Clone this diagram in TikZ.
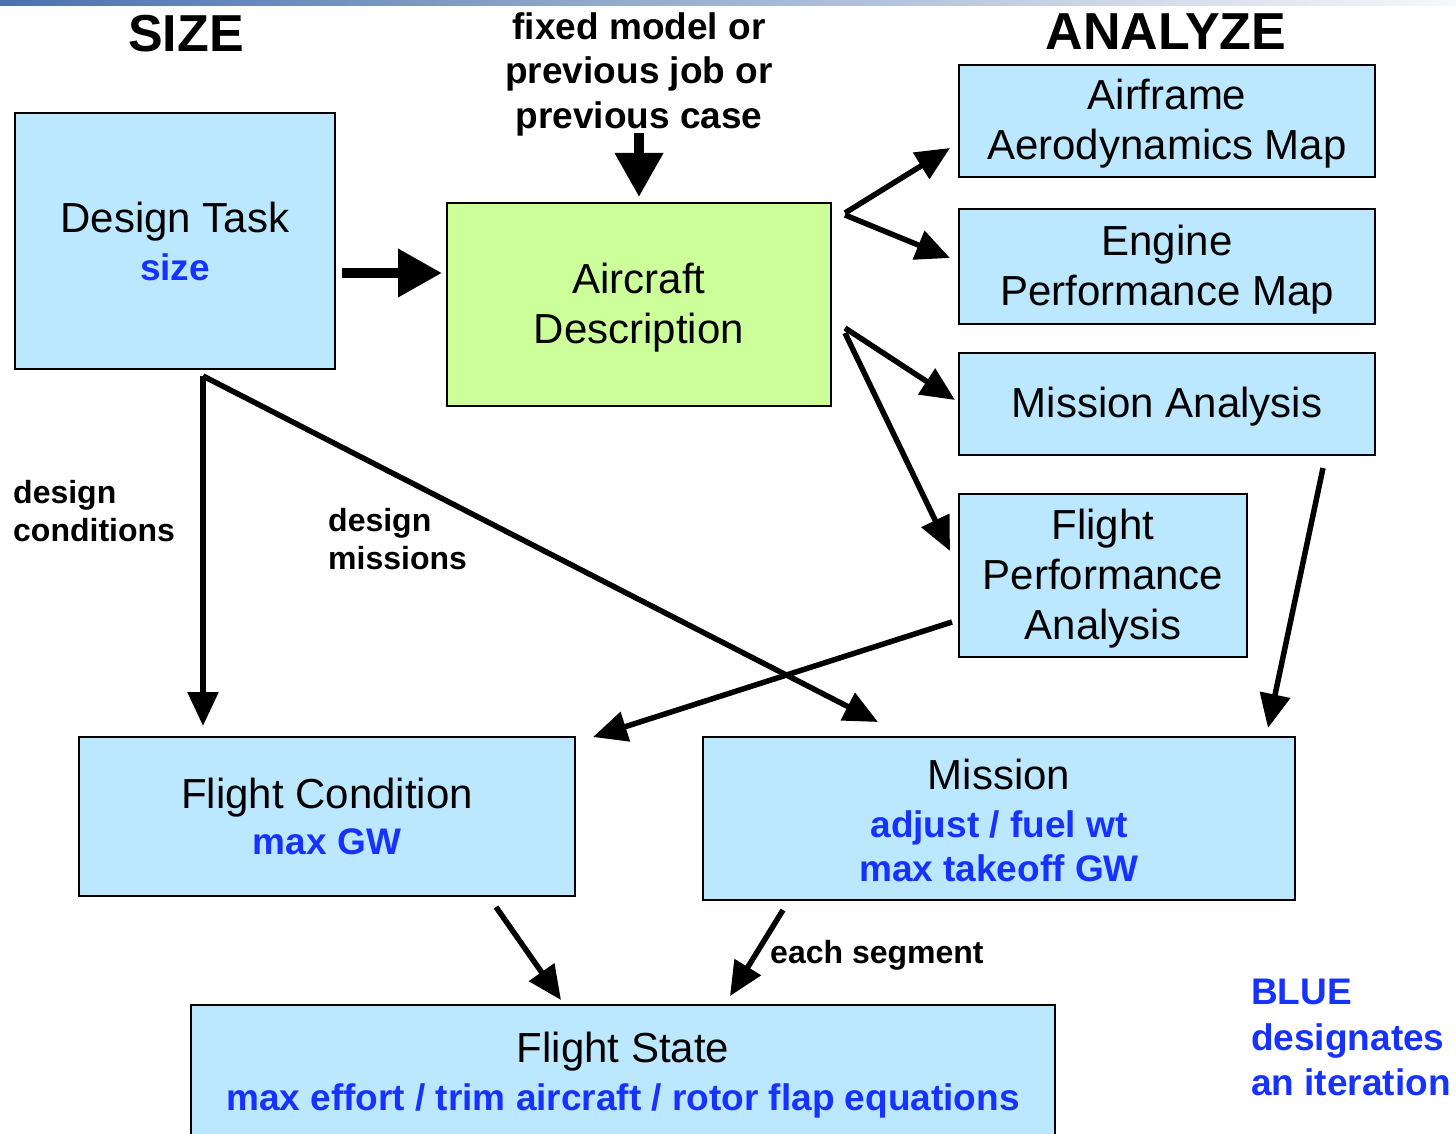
\documentclass[tikz,border=0pt]{standalone}
\usepackage{fontspec}
\setmainfont{Liberation Sans}
\usetikzlibrary{arrows.meta}
\definecolor{boxblue}{RGB}{187,231,255}
\definecolor{boxgreen}{RGB}{204,255,153}
\definecolor{iter}{RGB}{22,50,255}
\definecolor{barblue}{RGB}{75,115,170}
\definecolor{barend}{RGB}{246,247,251}
\newcommand{\itr}[1]{{\bfseries\color{iter}\fontsize{37}{44}\selectfont #1}}
\tikzset{
  box/.style={draw=black, line width=2.2pt, fill=boxblue, inner sep=0pt,
    font=\fontsize{42}{50}\selectfont, align=center},
  lbl/.style={font=\bfseries\fontsize{32}{38}\selectfont, align=left, inner sep=0pt},
  arr/.style={line width=5.5pt, -{Triangle[length=34pt,width=30pt]}},
  bigarr/.style={line width=10pt, -{Triangle[length=44pt,width=46pt]}},
  head/.style={font=\bfseries\fontsize{52}{60}\selectfont, inner sep=0pt},
}
\begin{document}
\begin{tikzpicture}[x=1pt, y=-1pt]
\useasboundingbox (0,0) rectangle (1456,1134);
\clip (0,0) rectangle (1456,1134);
\fill[white] (0,0) rectangle (1456,1134);
% title bar
\shade[left color=barblue, right color=barend] (0,0) rectangle (1456,6);

% headings and free labels
\node[head] (size) at (186,34) {SIZE};
\node[head] (analyze) at (1166,32) {ANALYZE};
\node[font=\bfseries\fontsize{37}{44.5}\selectfont, align=center, inner sep=0pt]
  (fixed) at (639,74) {fixed model or\\previous job or\\previous case};

% boxes
\node[box, minimum width=320pt, minimum height=256pt] (dt) at (175,241)
  {Design Task\\[-2pt]\itr{size}};
\node[box, fill=boxgreen, minimum width=384pt, minimum height=203pt] (ad) at (639,304.5)
  {\rule{0pt}{36pt}Aircraft\\Description};
\node[box, minimum width=416pt, minimum height=112pt] (aam) at (1167,121)
  {\rule{0pt}{36pt}Airframe\\Aerodynamics Map};
\node[box, minimum width=416pt, minimum height=115pt] (epm) at (1167,266.5)
  {\rule{0pt}{36pt}Engine\\Performance Map};
\node[box, minimum width=416pt, minimum height=102pt] (ma) at (1167,404)
  {\rule{0pt}{36pt}Mission Analysis};
\node[box, minimum width=288pt, minimum height=163pt] (fpa) at (1103,575.5)
  {\rule{0pt}{36pt}Flight\\Performance\\Analysis};
\node[box, minimum width=496pt, minimum height=159pt] (fc) at (327,816.5)
  {Flight Condition\\[-4pt]\itr{max GW}};
\node[box, minimum width=592pt, minimum height=163pt] (mis) at (999,818.5)
  {\rule{0pt}{34pt}Mission\\[-2pt]\itr{adjust / fuel wt}\\[-6pt]\itr{max takeoff GW}};
\node[box, minimum width=864pt, minimum height=140pt] (fs) at (623,1075)
  {Flight State\\[-2pt]\itr{max effort / trim aircraft / rotor flap equations}};

\node[lbl, anchor=north west] (dcond) at (13,480) {design\\conditions};
\node[lbl, anchor=north west] (dmis) at (328,508) {design\\missions};
\node[lbl, anchor=north west] (seg) at (770,940) {each segment};
\node[font=\bfseries\fontsize{37}{45.5}\selectfont, text=iter, align=left,
  inner sep=0pt, anchor=north west] (blue) at (1251,979) {BLUE\\designates\\an iteration};

% connector end points
\coordinate (dtR) at (342,273);
\coordinate (adL) at (442,273);
\coordinate (fixT) at (639,133);
\coordinate (adT) at (639,197);
\coordinate (adR1) at (845,213);
\coordinate (adR2) at (845,215);
\coordinate (adR3) at (845,328);
\coordinate (adR4) at (845,333);
\coordinate (aamL) at (950,148);
\coordinate (epmL) at (950,258);
\coordinate (maL) at (955,400);
\coordinate (fpaL) at (950,551);
\coordinate (dtB) at (203,376);
\coordinate (fcT1) at (203,726);
\coordinate (misT1) at (878,722);
\coordinate (fpaW) at (952,622);
\coordinate (fcT2) at (593,737);
\coordinate (maB) at (1323,468);
\coordinate (misT2) at (1268,728);
\coordinate (fcB) at (496,907);
\coordinate (fsT1) at (561,1000);
\coordinate (misB) at (783,910);
\coordinate (fsT2) at (730,996);

% connectors
\draw[bigarr] (dtR) -- (adL);
\draw[bigarr] (fixT) -- (adT);
\draw[arr] (adR1) -- (aamL);
\draw[arr] (adR2) -- (epmL);
\draw[arr] (adR3) -- (maL);
\draw[arr] (adR4) -- (fpaL);
\draw[arr] (dtB) -- (fcT1);
\draw[arr] (dtB) -- (misT1);
\draw[arr] (fpaW) -- (fcT2);
\draw[arr] (maB) -- (misT2);
\draw[arr] (fcB) -- (fsT1);
\draw[arr] (misB) -- (fsT2);
\end{tikzpicture}
\end{document}
